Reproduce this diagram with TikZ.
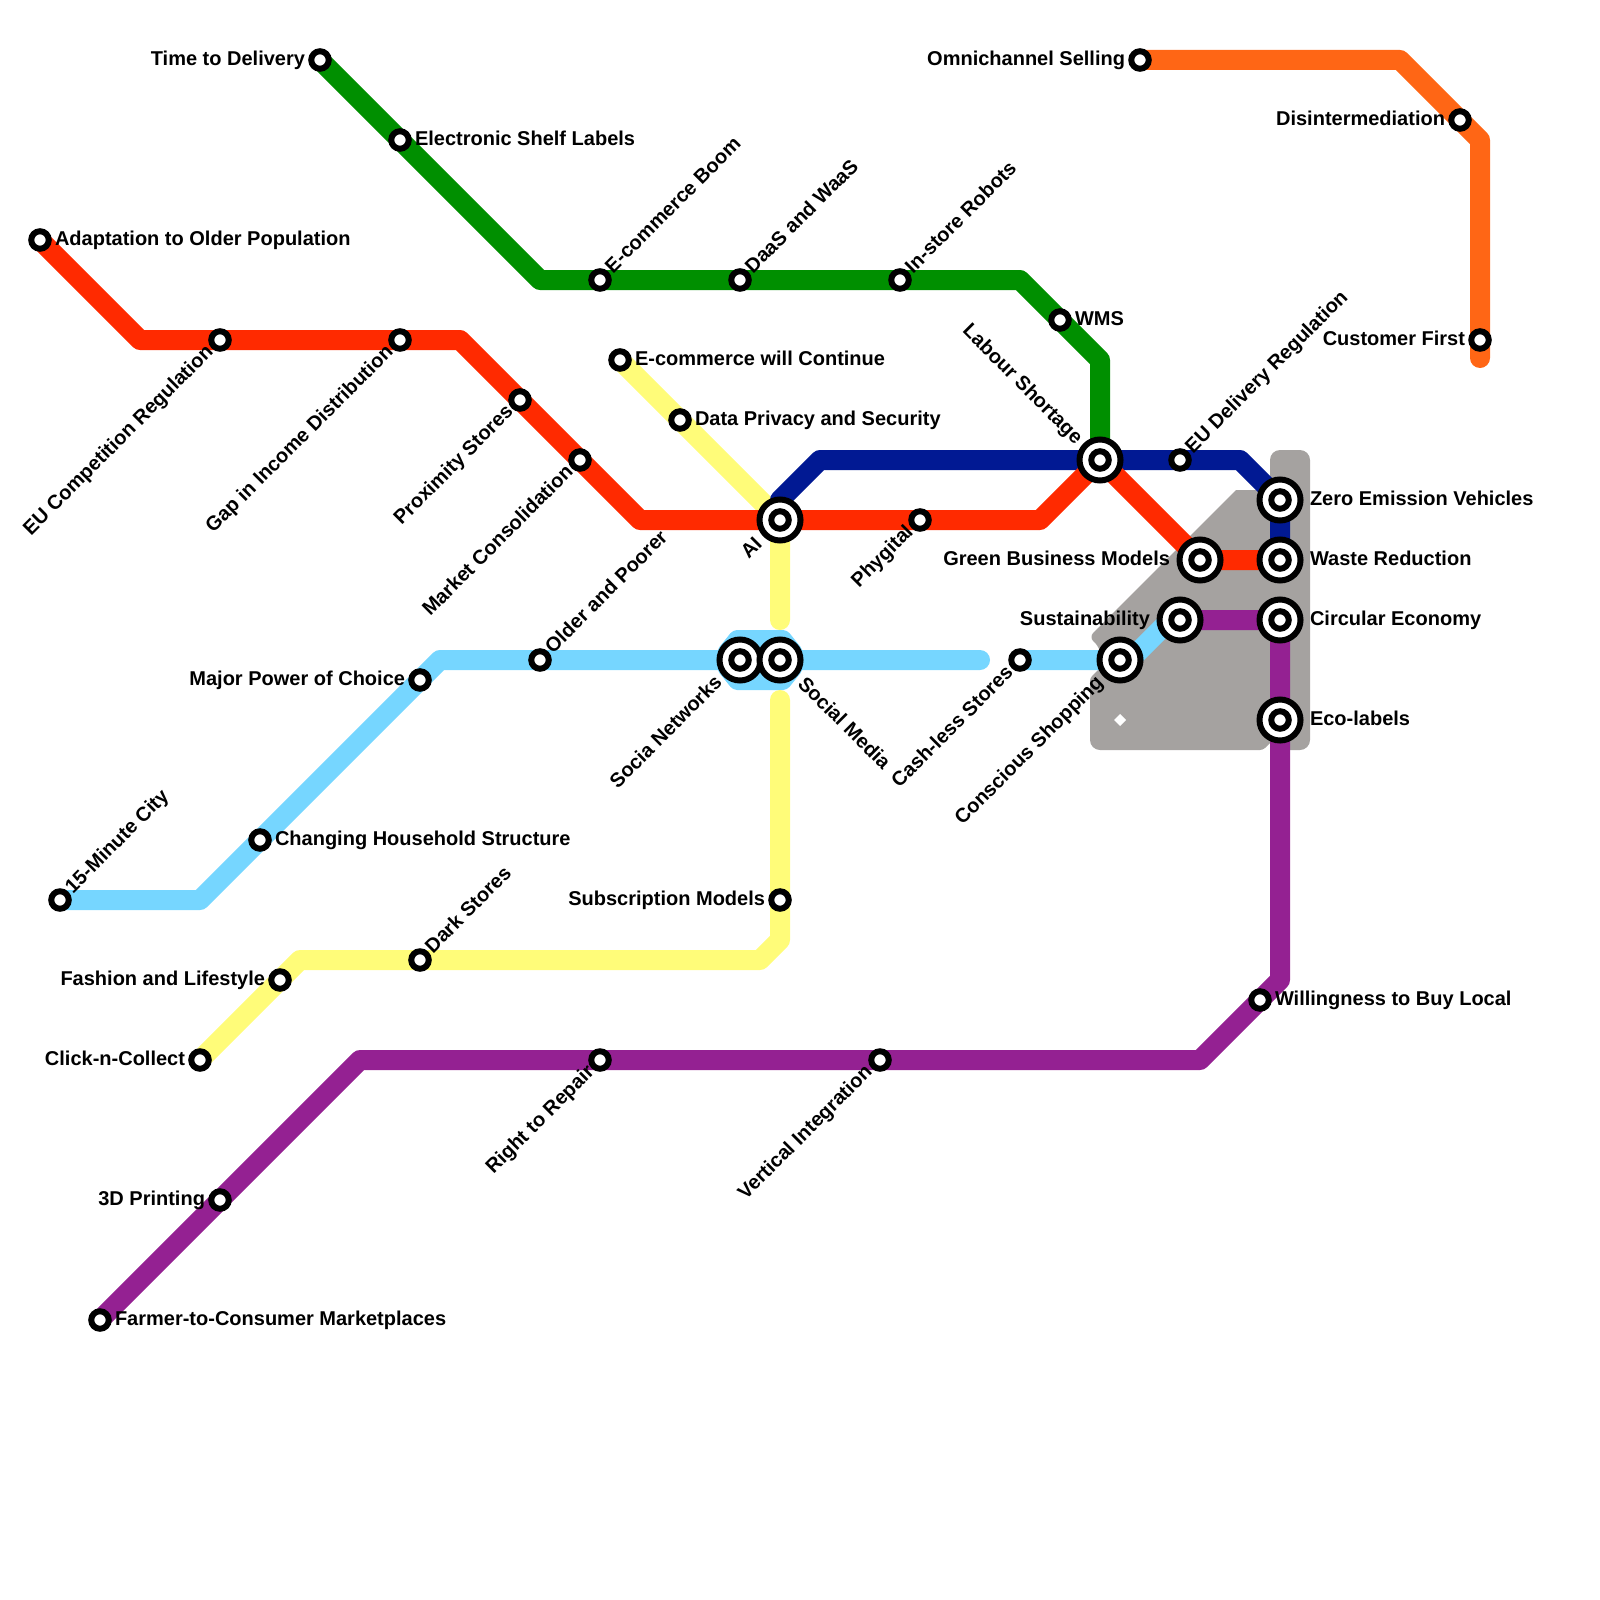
\documentclass[tikz,border=0pt]{standalone}
\usepackage{fontspec}
\setmainfont{Liberation Sans}
\definecolor{cred}{HTML}{FF2A00}
\definecolor{cgreen}{HTML}{008F00}
\definecolor{cnavy}{HTML}{011993}
\definecolor{corange}{HTML}{FF6615}
\definecolor{cyellow}{HTML}{FFFC79}
\definecolor{csky}{HTML}{76D6FF}
\definecolor{cpurple}{HTML}{942192}
\definecolor{cgrey}{HTML}{A5A2A0}
\tikzset{
  lineroute/.style={line width=10pt,line cap=round,line join=round},
  stn/.style={circle,draw=black,fill=white,line width=3pt,minimum size=8.75pt,inner sep=0pt,outer sep=0pt},
  bigstn/.style={circle,draw=black,fill=white,line width=3pt,minimum size=20.5pt,inner sep=0pt,outer sep=0pt},
  lab/.style={font=\bfseries\fontsize{10}{12}\selectfont,inner sep=0pt,outer sep=0pt,text=black,text height=7.2pt,text depth=0pt},
  labR/.style={lab,anchor=west},
  labL/.style={lab,anchor=east},
  labUR/.style={lab,anchor=west,rotate=45},
  labDL/.style={lab,anchor=east,rotate=45},
  labDR/.style={lab,anchor=west,rotate=-45},
  labUL/.style={lab,anchor=east,rotate=-45},
}
% small station + label: name, coord, label style, label offset, text
\newcommand{\smallst}[6]{\node[stn] (#1) at (#2,#3) {};\node[#4] (l#1) at ([shift={#5}]#1.center) {#6};}
\newcommand{\bigst}[6]{\node[bigstn] (#1) at (#2,#3) {};\node[stn] (c#1) at (#1.center) {};\node[#4] (l#1) at ([shift={#5}]#1.center) {#6};}
\begin{document}
\begin{tikzpicture}[x=0.5pt,y=-0.5pt]
\useasboundingbox (0,0) rectangle (1600,1600);
% grey area
\fill[cgrey,rounded corners=5pt] (1270,450) rectangle (1310,750);
\fill[cgrey] (1275,490) -- (1236,490) [rounded corners=3pt] -- (1089,637) -- (1100,648) [sharp corners] -- (1100,668) [rounded corners=1.5pt] -- (1090,678) [rounded corners=5pt] -- (1090,750) [rounded corners=1.5pt] -- (1263,750) [sharp corners] -- (1275,738) -- cycle;
\fill[white] (1120,714) -- (1126,720) -- (1120,726) -- (1114,720) -- cycle;
% light blue interchange block
\fill[csky,rounded corners=2pt] (733,630) -- (787,630) -- (803,650) -- (803,670) -- (787,690) -- (733,690) -- (717,670) -- (717,650) -- cycle;
% way points
\coordinate (Ra) at (40,240); \coordinate (Rb) at (140,340); \coordinate (Rc) at (460,340); \coordinate (Rd) at (640,520); \coordinate (Re) at (1040,520); \coordinate (Rf) at (1100,460); \coordinate (Rg) at (1200,560); \coordinate (Rh) at (1280,560);
\coordinate (Ga) at (320,60); \coordinate (Gb) at (540,280); \coordinate (Gc) at (1020,280); \coordinate (Gd) at (1100,360); \coordinate (Ge) at (1100,460);
\coordinate (Na) at (780,520); \coordinate (Nb) at (780,500); \coordinate (Nc) at (820,460); \coordinate (Nd) at (1240,460); \coordinate (Ne) at (1280,500); \coordinate (Nf) at (1280,560);
\coordinate (Oa) at (1140,60); \coordinate (Ob) at (1400,60); \coordinate (Oc) at (1480,140); \coordinate (Od) at (1480,358);
\coordinate (Ya) at (620,360); \coordinate (Yb) at (780,520); \coordinate (Yc) at (780,620);
\coordinate (Yd) at (780,700); \coordinate (Ye) at (780,940); \coordinate (Yf) at (760,960); \coordinate (Yg) at (300,960); \coordinate (Yh) at (200,1060);
\coordinate (Sa) at (60,900); \coordinate (Sb) at (200,900); \coordinate (Sc) at (440,660); \coordinate (Sd) at (980,660);
\coordinate (Se) at (1020,660); \coordinate (Sf) at (1130,660); \coordinate (Sg) at (1170,620); \coordinate (Sh) at (1180,620);
\coordinate (Pa) at (100,1320); \coordinate (Pb) at (360,1060); \coordinate (Pc) at (1200,1060); \coordinate (Pd) at (1280,980); \coordinate (Pe) at (1280,620); \coordinate (Pf) at (1180,620);
% lines
\draw[lineroute,csky] (Sa) -- (Sb) -- (Sc) -- (Sd);
\draw[lineroute,csky] (Se) -- (Sf) -- (Sg) -- (Sh);
\draw[lineroute,cyellow] (Ya) -- (Yb) -- (Yc);
\draw[lineroute,cyellow] (Yd) -- (Ye) -- (Yf) -- (Yg) -- (Yh);
\draw[lineroute,cgreen] (Ga) -- (Gb) -- (Gc) -- (Gd) -- (Ge);
\draw[lineroute,cnavy] (Na) -- (Nb) -- (Nc) -- (Nd) -- (Ne) -- (Nf);
\draw[lineroute,cred] (Ra) -- (Rb) -- (Rc) -- (Rd) -- (Re) -- (Rf) -- (Rg) -- (Rh);
\draw[lineroute,cpurple] (Pa) -- (Pb) -- (Pc) -- (Pd) -- (Pe) -- (Pf);
\draw[lineroute,corange] (Oa) -- (Ob) -- (Oc) -- (Od);
% red
\smallst{a1}{40}{240}{labR}{(15,-2)}{Adaptation to Older Population}
\smallst{a2}{220}{340}{labDL}{(-11,8)}{EU Competition Regulation}
\smallst{a3}{400}{340}{labDL}{(-11,8)}{Gap in Income Distribution}
\smallst{a4}{520}{400}{labDL}{(-11,8)}{Proximity Stores}
\smallst{a5}{580}{460}{labDL}{(-11,8)}{Market Consolidation}
\smallst{a6}{920}{520}{labDL}{(-11,8)}{Phygital}
% green
\smallst{b1}{320}{60}{labL}{(-15,-2)}{Time to Delivery}
\smallst{b2}{400}{140}{labR}{(15,-2)}{Electronic Shelf Labels}
\smallst{b3}{600}{280}{labUR}{(8,-11)}{E-commerce Boom}
\smallst{b4}{740}{280}{labUR}{(8,-11)}{DaaS and WaaS}
\smallst{b5}{900}{280}{labUR}{(8,-11)}{In-store Robots}
\smallst{b6}{1060}{320}{labR}{(15,-2)}{WMS}
% navy
\smallst{c1}{1180}{460}{labUR}{(8,-11)}{EU Delivery Regulation}
% orange
\smallst{d1}{1140}{60}{labL}{(-15,-2)}{Omnichannel Selling}
\smallst{d2}{1460}{120}{labL}{(-15,-2)}{Disintermediation}
\smallst{d3}{1480}{340}{labL}{(-15,-2)}{Customer First}
% yellow
\smallst{e1}{620}{360}{labR}{(15,-2)}{E-commerce will Continue}
\smallst{e2}{680}{420}{labR}{(15,-2)}{Data Privacy and Security}
\smallst{e3}{780}{900}{labL}{(-15,-2)}{Subscription Models}
\smallst{e4}{420}{960}{labUR}{(8,-11)}{Dark Stores}
\smallst{e5}{280}{980}{labL}{(-15,-2)}{Fashion and Lifestyle}
\smallst{e6}{200}{1060}{labL}{(-15,-2)}{Click-n-Collect}
% sky
\smallst{f1}{60}{900}{labUR}{(8,-11)}{15-Minute City}
\smallst{f2}{260}{840}{labR}{(15,-2)}{Changing Household Structure}
\smallst{f3}{420}{680}{labL}{(-15,-2)}{Major Power of Choice}
\smallst{f4}{540}{660}{labUR}{(8,-11)}{Older and Poorer}
\smallst{f5}{1020}{660}{labDL}{(-11,9)}{Cash-less Stores}
% purple
\smallst{g1}{100}{1320}{labR}{(15,-2)}{Farmer-to-Consumer Marketplaces}
\smallst{g2}{220}{1200}{labL}{(-15,-2)}{3D Printing}
\smallst{g3}{600}{1060}{labDL}{(-10,8)}{Right to Repair}
\smallst{g4}{880}{1060}{labDL}{(-12,8)}{Vertical Integration}
\smallst{g5}{1260}{1000}{labR}{(15,-2)}{Willingness to Buy Local}
% interchanges
\bigst{h1}{780}{520}{labDL}{(-22,20)}{AI}
\bigst{h2}{740}{660}{labDL}{(-22,19)}{Socia Networks}
\bigst{h3}{780}{660}{labDR}{(22,20)}{Social Media}
\bigst{h4}{1100}{460}{labUL}{(-20,-20)}{Labour Shortage}
\bigst{h5}{1120}{660}{labDL}{(-21,19)}{Conscious Shopping}
\bigst{h6}{1200}{560}{labL}{(-30,-2)}{Green Business Models}
\bigst{h7}{1180}{620}{labL}{(-30,-2)}{Sustainability}
\bigst{h8}{1280}{500}{labR}{(30,-2)}{Zero Emission Vehicles}
\bigst{h9}{1280}{560}{labR}{(30,-2)}{Waste Reduction}
\bigst{h10}{1280}{620}{labR}{(30,-2)}{Circular Economy}
\bigst{h11}{1280}{720}{labR}{(30,-2)}{Eco-labels}
\end{tikzpicture}
\end{document}
